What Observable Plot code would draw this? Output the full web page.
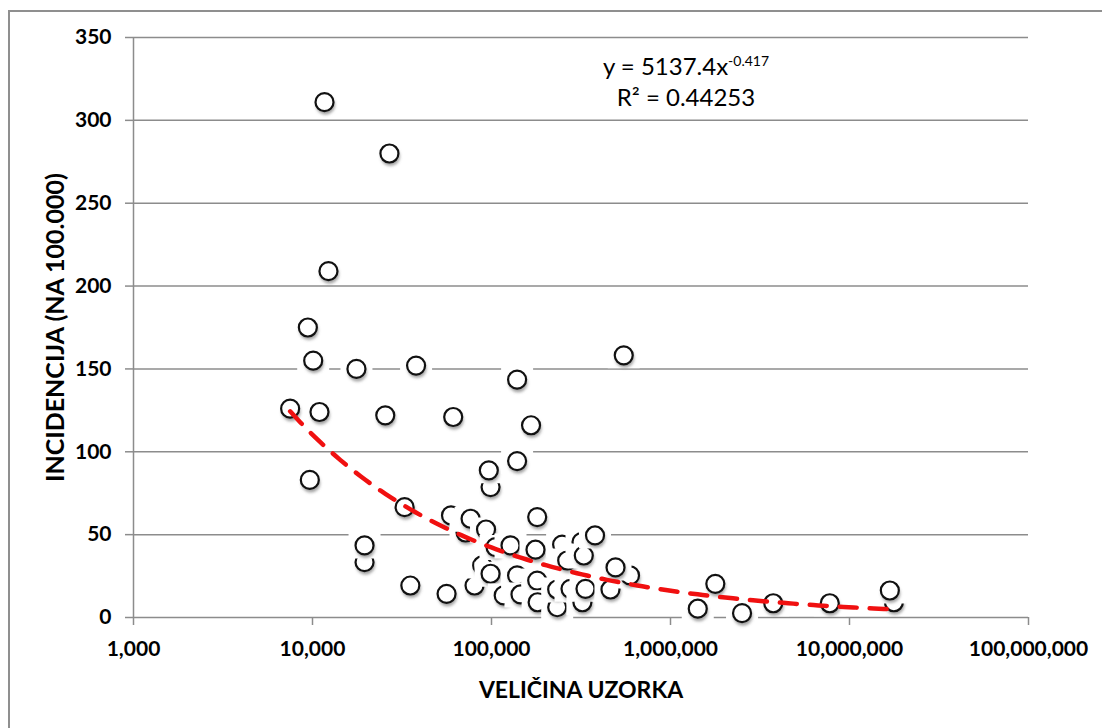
<!DOCTYPE html>
<html><head><meta charset="utf-8">
<script src="https://cdn.jsdelivr.net/npm/d3@7"></script>
<script src="https://cdn.jsdelivr.net/npm/@observablehq/plot@0.6"></script>
<style>
body{margin:0;background:#fff;}
#wrap{position:relative;width:1102px;height:728px;overflow:hidden;background:#fff;}
#border{position:absolute;left:8px;top:10px;width:1200px;height:800px;border-left:2px solid #8f8f8f;border-top:2px solid #8f8f8f;pointer-events:none;}
#chart{position:absolute;left:0;top:0;}
#eq{position:absolute;left:586px;top:50px;width:200px;text-align:center;font-family:Lato,sans-serif;font-size:24px;line-height:31px;color:#000;}
#eq sup{font-size:14px;vertical-align:top;position:relative;top:-5px;}
g[aria-label^="y-axis"] line, g[aria-label^="y-axis"] path,
g[aria-label^="x-axis"] line, g[aria-label^="x-axis"] path{stroke:#8c8c8c;stroke-width:1.5;}
</style>
</head><body>
<div id="wrap"><div id="chart"></div><div id="border"></div>
<div id="eq">y = 5137.4x<sup>-0.417</sup><br>R² = 0.44253</div></div>
<script>
// Sample size (x) and incidence per 100.000 (y), in drawing order
const sampleSize = [7500, 9420, 9660, 10090, 10940, 11670, 12280, 17600, 19530, 19530,
  25500, 26900, 32700, 35200, 37900, 56100, 59400, 61100, 71600, 76400,
  80400, 88700, 93200, 98800, 96600, 98800, 105300, 117000, 127700, 139000,
  139000, 139000, 145200, 166300, 176100, 180000, 180000, 181000, 232800, 232800,
  248000, 264800, 276300, 318300, 322000, 327800, 335000, 378700, 462000, 594000,
  493000, 548000, 1420000, 1780000, 2510000, 3750000, 7760000, 17700000, 16800000];
const incidence = [126, 175, 83, 155, 124, 311, 209, 150, 33.4, 43.5,
  122, 280, 66.6, 19.3, 152, 14.3, 61.6, 121, 51.3, 59.6,
  19.3, 31.4, 53.1, 78.7, 88.8, 26.4, 42.5, 13.3, 43.5, 143.5,
  94.4, 25.4, 13.9, 116, 40.9, 60.6, 22.3, 9.2, 6.2, 16.9,
  44, 34.4, 17.3, 45.5, 9.2, 37.4, 17.3, 49.5, 16.9, 25.4,
  30.2, 158.2, 5.3, 20.3, 2.6, 8.6, 8.6, 9.2, 16.3];
const xTicks = [1e3, 1e4, 1e5, 1e6, 1e7, 1e8];
const yTicks = [0, 50, 100, 150, 200, 250, 300, 350];
const trendCoef = [5137.4];
const trendExp = [-0.417];

const points = sampleSize.map((x, i) => ({x, y: incidence[i]}));
const lx0 = Math.log10(d3.min(sampleSize)), lx1 = Math.log10(d3.max(sampleSize));
const trend = d3.range(0, 121).map(i => {
  const x = 10 ** (lx0 + (lx1 - lx0) * i / 120);
  return {x, y: trendCoef[0] * Math.pow(x, trendExp[0])};
});

const halo = {draw(ctx) { ctx.moveTo(-16, -12); ctx.lineTo(16, -12); ctx.lineTo(16, 13); ctx.lineTo(-16, 13); ctx.closePath(); }};

const marks = [
  Plot.ruleY(yTicks, {stroke: "#8c8c8c", strokeWidth: 1.5}),
  Plot.ruleX([xTicks[0]], {stroke: "#8c8c8c", strokeWidth: 1.5})
];
for (const p of points) {
  const d = [p];
  marks.push(Plot.dot(d, {x: "x", y: "y", symbol: halo, r: 10, fill: "white", stroke: "none"}));
  marks.push(Plot.dot(d, {x: "x", y: "y", r: 9.5, fill: "#666666", fillOpacity: 0.6, stroke: "none", dy: 3, dx: 1}));
  marks.push(Plot.dot(d, {x: "x", y: "y", r: 9, fill: "white", stroke: "#111", strokeWidth: 2.2}));
}
marks.push(Plot.line(trend, {x: "x", y: "y", stroke: "#f01010", strokeWidth: 4.5, strokeDasharray: "17,13"}));
marks.push(Plot.text(["INCIDENCIJA (NA 100.000)"], {frameAnchor: "left", textAnchor: "middle", lineAnchor: "middle", dx: -78, rotate: -90, fontSize: 25, fontWeight: "bold"}));
marks.push(Plot.text(["VELIČINA UZORKA"], {frameAnchor: "bottom", textAnchor: "middle", lineAnchor: "middle", dy: 73, fontSize: 23, fontWeight: "bold"}));

const svg = Plot.plot({
  width: 1102, height: 728,
  marginLeft: 133, marginRight: 74, marginTop: 37, marginBottom: 111,
  style: {fontFamily: "Lato, sans-serif", fontSize: "21px", fontWeight: "bold", color: "#000", background: "transparent"},
  x: {type: "log", domain: [1e3, 1e8], ticks: xTicks, tickFormat: d3.format(","), tickSize: 8, tickPadding: 16, label: null},
  y: {domain: [0, 350], ticks: yTicks, tickSize: 8, tickPadding: 14, label: null},
  marks
});
document.getElementById("chart").appendChild(svg);

// soft blur on marker shadows
const s = d3.select(svg);
const defs = s.insert("defs", ":first-child");
defs.append("filter").attr("id", "blur").attr("x", "-50%").attr("y", "-50%").attr("width", "200%").attr("height", "200%")
  .append("feGaussianBlur").attr("stdDeviation", 1.6);
s.selectAll('g[fill="#666666"]').attr("filter", "url(#blur)");
</script>
</body></html>
